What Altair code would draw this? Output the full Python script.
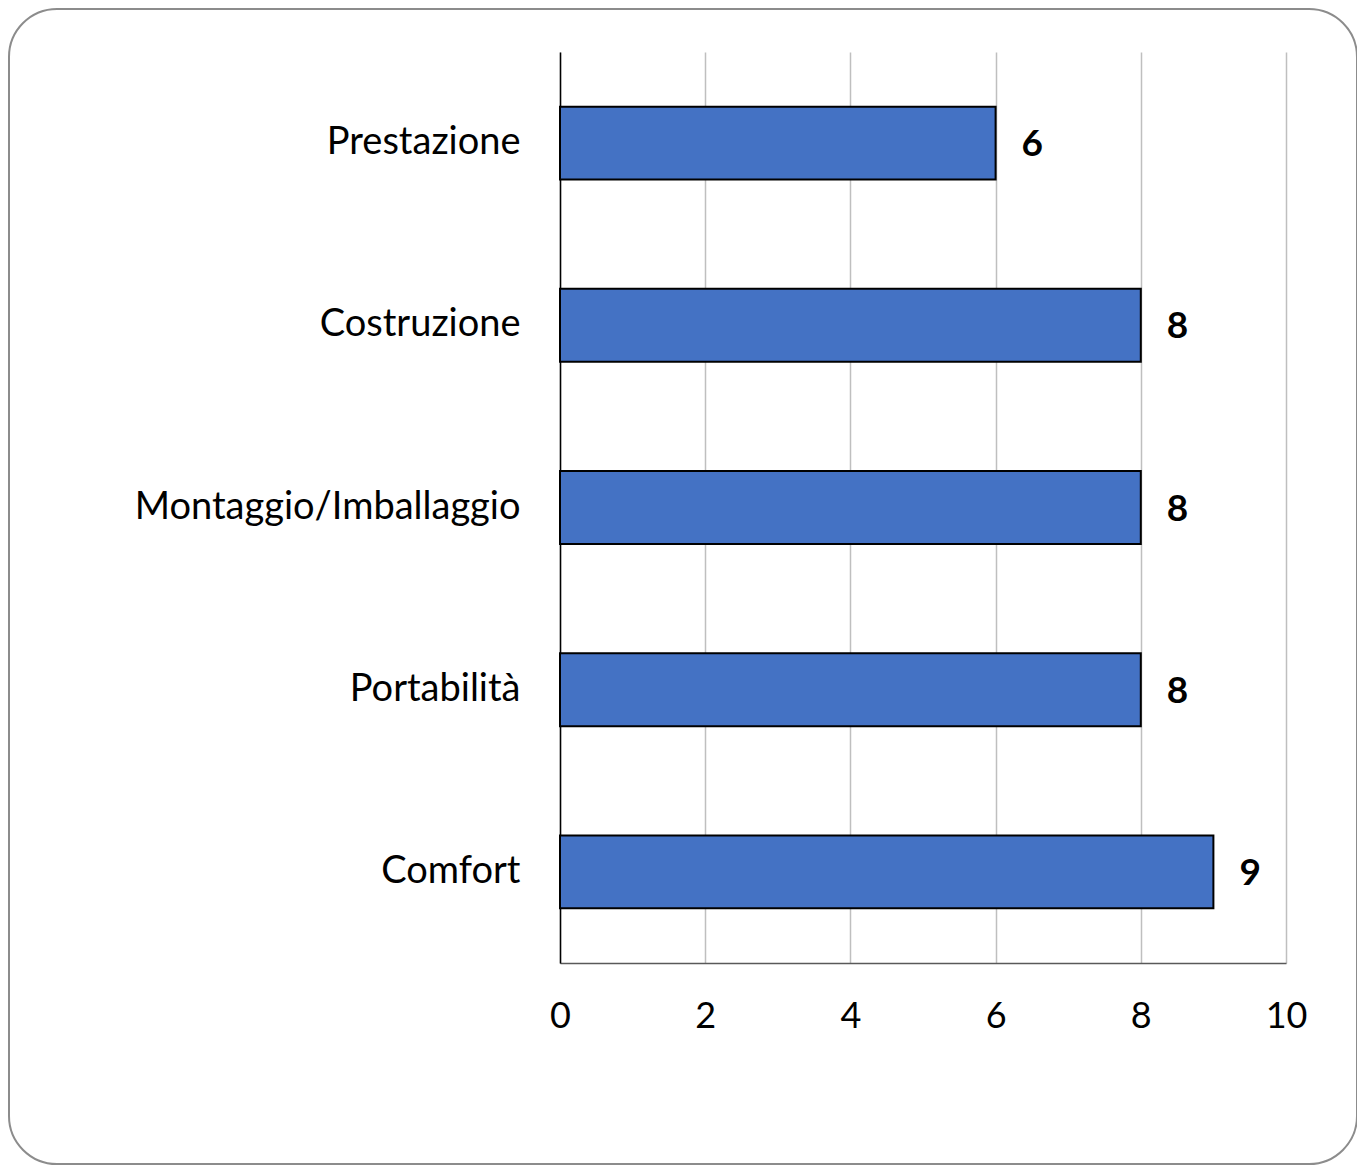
import altair as alt
import pandas as pd

categories = ["Prestazione", "Costruzione", "Montaggio/Imballaggio", "Portabilità", "Comfort"]
values = [6, 8, 8, 8, 9]
x_ticks = [0, 2, 4, 6, 8, 10]

df = pd.DataFrame({"cat": categories, "val": values})

FONT = "Lato"
W, H = 726, 911

border = alt.Chart(pd.DataFrame({"a": [0]})).mark_rect(
    fillOpacity=0, stroke="#8c8c8c", strokeWidth=2, cornerRadius=48
).encode(
    x=alt.value(-551), x2=alt.value(797), y=alt.value(-43), y2=alt.value(1112)
)

y_enc = alt.Y("cat:N", sort=categories, title=None,
              scale=alt.Scale(paddingInner=0.6, paddingOuter=0.3),
              axis=alt.Axis(domain=True, domainColor="#000000", domainWidth=1.5,
                            ticks=False, grid=False, labelPadding=40, labelLimit=0,
                            labelFontSize=38, labelColor="#000000", labelFont=FONT))
x_enc = alt.X("val:Q", title=None,
              scale=alt.Scale(domain=[0, 10], nice=False),
              axis=alt.Axis(values=x_ticks, format="d", domain=True, domainColor="#595959",
                            domainWidth=1.5, ticks=False, grid=True, labelFlush=False,
                            gridColor="#bfbfbf", gridWidth=1.5, labelPadding=36,
                            labelFontSize=36, labelColor="#000000", labelFont=FONT))

bars = alt.Chart(df).mark_bar(
    fill="#4472C4", stroke="#000000", strokeWidth=2
).encode(x=x_enc, y=y_enc)

labels = alt.Chart(df).mark_text(
    align="left", baseline="middle", dx=26, dy=2, fontSize=37, fontWeight="bold",
    font=FONT, color="#000000"
).encode(x=alt.X("val:Q"), y=alt.Y("cat:N", sort=categories), text="val:Q")

chart = alt.layer(border, bars, labels).properties(
    width=W, height=H,
    autosize=alt.AutoSizeParams(type="none"),
    padding={"left": 552, "top": 44, "right": 71, "bottom": 202},
    background="white",
).configure_view(stroke=None)

chart.save("out.html", embed_options={"renderer": "svg", "actions": False})
